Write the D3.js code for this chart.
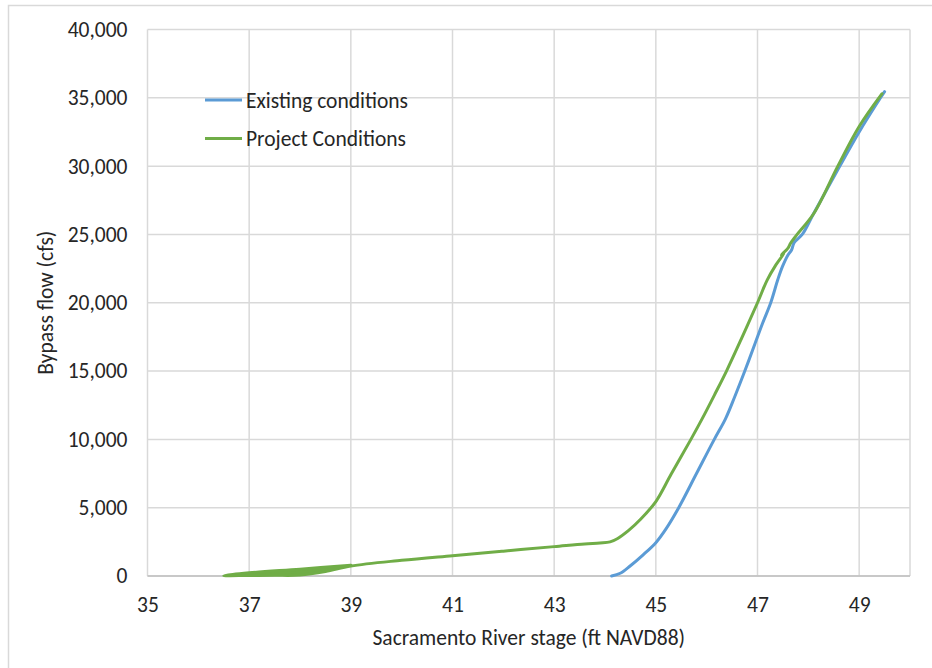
<!DOCTYPE html>
<html>
<head>
<meta charset="utf-8">
<script src="https://cdn.jsdelivr.net/npm/d3@7"></script>
<style>
  body { margin: 0; background: #fff; }
  text { font-family: Carlito, Calibri, Lato, "Open Sans", sans-serif; fill: #262626; }
</style>
</head>
<body>
<div id="graph1"></div>
<script>
// tick values on each axis
const xTicks = [35, 37, 39, 41, 43, 45, 47, 49];
const yTicks = [0, 5000, 10000, 15000, 20000, 25000, 30000, 35000, 40000];

// Existing conditions: stage (ft) vs bypass flow (cfs)
const existingStage = [44.13, 44.3, 44.5, 44.75, 45.0, 45.2, 45.45, 45.8, 46.15, 46.37, 46.55, 46.75, 46.95, 47.1, 47.26, 47.4, 47.49, 47.6, 47.67, 47.72, 47.88, 48.1, 48.62, 49.0, 49.42, 49.5];
const existingFlow  = [0, 200, 750, 1550, 2440, 3450, 5000, 7500, 10000, 11500, 13100, 15000, 17000, 18500, 20000, 21700, 22640, 23500, 23860, 24400, 25000, 26500, 30000, 32500, 35000, 35450];

// Project conditions (starts with the small loop near 36.5-39 ft)
const projectStage = [39.0, 38.0, 37.0, 36.5, 37.0, 37.5, 38.0, 38.5, 39.0, 40.0, 41.0, 42.0, 43.0, 43.6, 43.9, 44.1, 44.25, 44.46, 44.7, 45.0, 45.3, 45.69, 45.91, 46.16, 46.39, 46.7, 47.0, 47.19, 47.35, 47.52, 47.47, 47.6, 47.65, 47.78, 48.11, 48.58, 49.0, 49.45];
const projectFlow  = [790, 500, 230, 30, 40, 50, 70, 330, 730, 1150, 1490, 1820, 2150, 2350, 2420, 2500, 2750, 3316, 4150, 5450, 7450, 10000, 11500, 13300, 15000, 17500, 20000, 21660, 22700, 23620, 23500, 24000, 24350, 25000, 26550, 30000, 32900, 35300];
const projectLoopEnd = 8;   // points 0..8 form the narrow wedge at low stage

const seriesNames = ["Existing conditions", "Project Conditions"];
const seriesColors = ["#5b9bd5", "#70ad47"];
const fontSize = "21.5px";

const width = 932, height = 668;
const margin = {top: 29.5, right: 22, bottom: 92, left: 147.5};
const innerwidth = width - margin.left - margin.right;
const innerheight = height - margin.top - margin.bottom;

let root = d3.select("#graph1")
    .append("svg")
    .attr("width", width)
    .attr("height", height);

// outer chart border (only top/left fall inside the picture)
root.append("rect")
    .attr("x", 8.5).attr("y", 5.5)
    .attr("width", width + 20).attr("height", height + 20)
    .attr("fill", "none")
    .attr("stroke", "#d9d9d9")
    .attr("stroke-width", 1.5);

let svg = root.append("g")
    .attr("transform", `translate(${margin.left}, ${margin.top})`);

let x = d3.scaleLinear().domain([35, 50]).range([0, innerwidth]);
let y = d3.scaleLinear().domain([0, 40000]).range([innerheight, 0]);

// gridlines
svg.append("g")
    .selectAll("line")
    .data(yTicks)
    .enter().append("line")
    .attr("x1", 0).attr("x2", innerwidth)
    .attr("y1", d => y(d)).attr("y2", d => y(d))
    .attr("stroke", "#d9d9d9").attr("stroke-width", 1.5);

svg.append("g")
    .selectAll("line")
    .data(xTicks.concat([50]))
    .enter().append("line")
    .attr("x1", d => x(d)).attr("x2", d => x(d))
    .attr("y1", 0).attr("y2", innerheight)
    .attr("stroke", "#d9d9d9").attr("stroke-width", 1.5);

// axes (labels only, Excel style)
let xAxis = svg.append("g")
    .attr("transform", `translate(0, ${innerheight})`)
    .call(d3.axisBottom(x).tickValues(xTicks).tickSize(0).tickPadding(30));
xAxis.select(".domain").remove();
xAxis.selectAll("text").style("font-size", fontSize).attr("dy", 0).attr("y", 36);

let yAxis = svg.append("g")
    .call(d3.axisLeft(y).tickValues(yTicks).tickSize(0).tickPadding(20).tickFormat(d3.format(",")));
yAxis.select(".domain").remove();
yAxis.selectAll("text").style("font-size", fontSize);

// bottom axis line
svg.append("line")
    .attr("x1", 0).attr("x2", innerwidth)
    .attr("y1", innerheight).attr("y2", innerheight)
    .attr("stroke", "#bfbfbf").attr("stroke-width", 1.5);

// lines
const lineGen = d3.line()
    .x(d => x(d[0])).y(d => y(d[1]))
    .curve(d3.curveCatmullRom.alpha(0.5));
const series = [
    d3.zip(existingStage, existingFlow),
    d3.zip(projectStage, projectFlow)
];

// the low-stage loop of the project curve reads as a filled sliver
svg.append("path")
    .datum(series[1].slice(0, projectLoopEnd + 1))
    .attr("fill", seriesColors[1])
    .attr("stroke", "none")
    .attr("d", d3.line().x(d => x(d[0])).y(d => y(d[1])));

series.forEach((s, i) => {
    svg.append("path")
        .datum(s)
        .attr("fill", "none")
        .attr("stroke", seriesColors[i])
        .attr("stroke-width", 3)
        .attr("stroke-linejoin", "round")
        .attr("stroke-linecap", "round")
        .attr("d", lineGen);
});

// legend
let legend = root.append("g");
seriesNames.forEach((name, i) => {
    let ly = 100 + i * 38.5;
    legend.append("line")
        .attr("x1", 205).attr("x2", 242)
        .attr("y1", ly).attr("y2", ly)
        .attr("stroke", seriesColors[i]).attr("stroke-width", 3);
    legend.append("text")
        .attr("x", 246).attr("y", ly + 7.5)
        .style("font-size", fontSize)
        .text(name);
});

// axis titles
root.append("text")
    .attr("transform", `translate(${margin.left + innerwidth / 2}, 645)`)
    .style("text-anchor", "middle")
    .style("font-size", fontSize)
    .text("Sacramento River stage (ft NAVD88)");

root.append("text")
    .attr("transform", `translate(53, ${margin.top + innerheight / 2}) rotate(-90)`)
    .style("text-anchor", "middle")
    .style("font-size", fontSize)
    .text("Bypass flow (cfs)");
</script>
</body>
</html>
